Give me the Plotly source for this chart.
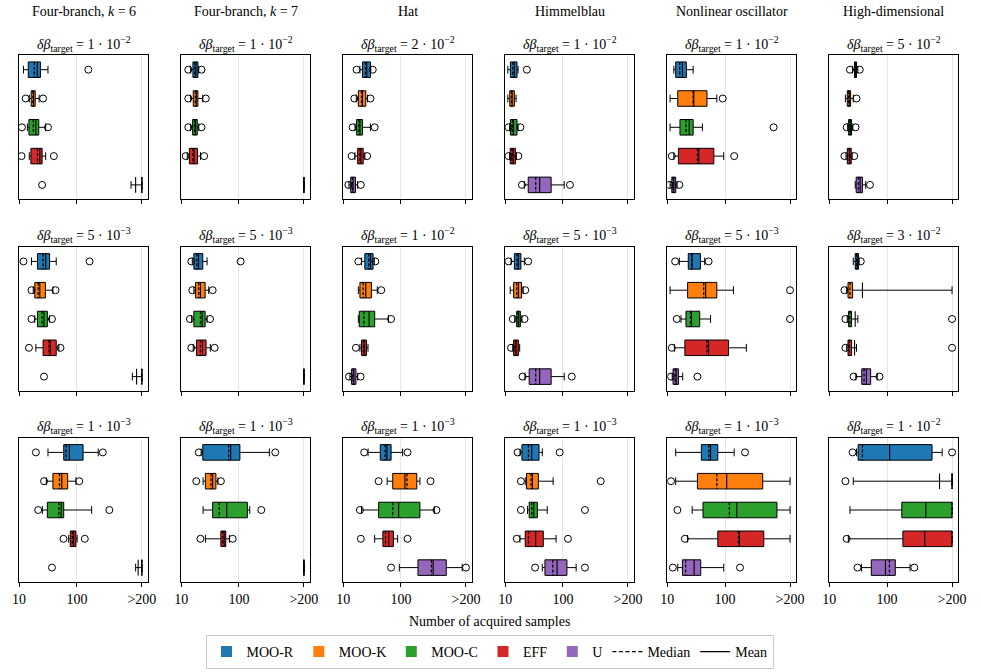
import plotly.graph_objects as go

# ">200": runs that did not reach the target within the budget are drawn at this tick
F = 1334

METHODS = ["MOO-R", "MOO-K", "MOO-C", "EFF", "U"]
COLORS = ["#1f77b4", "#ff7f0e", "#2ca02c", "#d62728", "#9467bd"]
BENCHMARKS = ["Four-branch, <i>k</i> = 6", "Four-branch, <i>k</i> = 7", "Hat",
              "Himmelblau", "Nonlinear oscillator", "High-dimensional"]
TARGET_MANTISSA = [[1, 1, 2, 1, 1, 5], [5, 5, 1, 5, 5, 3], [1, 1, 1, 1, 1, 1]]
TARGET_EXPONENT = [[-2, -2, -2, -2, -2, -2], [-3, -3, -2, -3, -3, -2], [-3, -3, -3, -3, -3, -2]]
X_TICK_VALUES = [10, 100, F]
X_TICK_TEXT = ["10", "100", ">200"]

# statistics per panel (row-major: 3 rows x 6 benchmarks), per method (MOO-R, MOO-K, MOO-C, EFF, U)
WHISKER_LOW = [
    [11.9, 15.0, 13.9, 15.0, 866], [14.6, 14.6, 14.6, 12.8, F], [19.5, 16.9, 16.0, 16.0, 12.6],
    [11.1, 11.1, 11.9, 11.9, 21.4], [13.0, 11.2, 11.2, 13.0, 11.2], [25.3, 19.0, 20.8, 19.5, 28.1],
    [16.4, 17.6, 18.7, 19.5, 913], [15.6, 16.6, 15.2, 16.2, F], [20.8, 18.3, 18.3, 19.5, 13.1],
    [12.6, 12.2, 14.6, 13.5, 21.9], [16.2, 11.2, 17.3, 13.3, 12.2], [26.0, 20.0, 20.5, 20.0, 28.8],
    [31.6, 29.6, 25.3, 72.1, 1040], [22.2, 24.0, 24.0, 26.3, F], [27.0, 57.7, 20.8, 35.1, 93.7],
    [18.0, 22.2, 24.3, 18.0, 43.9], [14.0, 14.0, 27.0, 22.5, 15.2], [29.6, 26.0, 22.8, 21.4, 36.0],
]
Q1 = [
    [14.4, 16.2, 14.8, 16.0, F], [16.0, 16.2, 15.8, 13.9, F], [21.6, 18.3, 17.1, 17.8, 13.5],
    [12.3, 12.0, 12.3, 12.2, 25.0], [14.0, 15.2, 16.6, 15.6, 12.0], [27.3, 20.5, 21.6, 20.5, 29.2],
    [20.8, 18.7, 20.8, 26.0, F], [16.6, 17.8, 16.6, 18.5, F], [23.7, 19.5, 19.0, 20.8, 14.0],
    [14.4, 14.0, 15.8, 14.0, 26.0], [23.1, 22.5, 21.1, 20.2, 12.6], [28.1, 21.1, 21.6, 21.1, 36.5],
    [59.2, 38.5, 30.8, 76.9, F], [23.7, 26.3, 35.1, 48.7, F], [43.9, 72.1, 41.1, 48.7, 197],
    [19.5, 23.4, 26.0, 22.2, 48.7], [39.0, 33.3, 41.6, 75.0, 18.3], [31.6, F, 180, 188, 53.4],
]
MEDIAN = [
    [18.3, 17.3, 17.6, 20.8, F], [17.3, 17.6, 17.1, 15.8, F], [24.3, 20.8, 18.7, 19.5, 14.4],
    [13.5, 12.8, 13.3, 13.1, 33.7], [16.4, 28.1, 21.1, 33.3, 12.6], [27.9, 21.6, 22.8, 22.2, 32.0],
    [26.0, 21.4, 25.0, 32.9, F], [18.7, 20.2, 21.6, 21.6, F], [27.7, 22.2, 22.8, 22.5, 14.9],
    [16.0, 15.8, 16.6, 15.0, 33.7], [26.3, 42.7, 25.3, 48.7, 13.7], [29.6, 22.8, 22.8, 22.2, 40.0],
    [65.0, 50.0, 48.7, 83.3, F], [66.7, 32.9, 45.6, 52.7, F], [53.4, 127, 72.1, 54.1, 337],
    [25.3, 28.1, 28.8, 25.3, 66.7], [52.7, 72.1, 119, 171, 20.8], [37.5, F, F, F, 110],
]
MEAN = [
    [20.6, 17.8, 19.5, 22.8, 1040], [18.0, 18.3, 17.6, 16.7, F], [25.6, 21.6, 19.5, 20.2, 14.8],
    [14.4, 13.2, 13.9, 13.7, 39.5], [18.3, 28.8, 24.0, 35.1, 13.0], [28.8, 22.2, 23.1, 22.5, 34.2],
    [28.8, 22.8, 27.0, 34.6, 1080], [20.0, 21.6, 23.1, 23.4, F], [29.6, 24.6, 28.1, 23.4, 15.3],
    [16.9, 16.9, 17.1, 15.4, 39.5], [27.0, 46.2, 26.3, 52.0, 14.3], [30.4, 37.5, 28.1, 27.4, 43.9],
    [74.0, 54.8, 53.4, 87.7, 1150], [72.1, 35.1, 61.6, 55.5, F], [57.0, 117, 91.2, 61.6, 361],
    [28.8, 29.6, 31.2, 33.7, 79.0], [56.2, 107, 160, 178, 29.2], [111, 810, 469, 450, 93.7],
]
Q3 = [
    [23.4, 19.0, 21.9, 25.0, F], [19.5, 19.5, 19.0, 19.2, F], [29.6, 24.6, 21.6, 22.2, 16.3],
    [16.0, 14.4, 16.0, 15.0, 62.4], [21.4, 48.7, 28.1, 64.1, 14.0], [29.6, 23.4, 24.3, 24.0, 37.5],
    [33.7, 28.5, 30.8, 43.9, F], [23.7, 26.0, 26.0, 27.0, F], [32.9, 30.8, 35.1, 25.3, 16.6],
    [18.7, 19.2, 18.3, 16.9, 62.4], [37.5, 72.1, 36.5, 115, 15.6], [32.0, 25.3, 24.3, 24.3, 52.0],
    [128, 69.3, 59.2, 96.2, F], [104, 40.0, 140, 59.2, F], [67.5, 188, 213, 74.0, 609],
    [38.5, 37.5, 36.0, 45.6, 117], [75.0, 450, 792, 469, 38.0], [601, F, F, F, 139],
]
WHISKER_HIGH = [
    [31.6, 22.2, 28.8, 28.8, F], [20.2, 23.7, 20.2, 21.6, F], [30.0, 26.3, 29.6, 23.7, 17.8],
    [16.7, 15.4, 16.7, 15.6, 105], [28.1, 72.1, 40.6, 94.9, 14.8], [31.2, 26.0, 25.6, 24.9, 42.7],
    [43.9, 38.5, 33.7, 48.7, F], [28.1, 30.0, 28.1, 32.0, F], [34.6, 39.0, 60.8, 26.9, 17.8],
    [21.4, 20.5, 19.5, 17.8, 105], [44.5, 140, 56.2, 234, 18.5], [32.9, F, 31.2, 29.6, 67.5],
    [234, 96.2, 180, 101, F], [337, 43.3, 154, 68.4, F], [107, 213, 380, 87.7, 1150],
    [43.9, 67.5, 53.4, 76.0, 169], [144, F, F, F, 94.9], [900, F, F, F, 250],
]
OUTLIER_LOW = [
    [None, 13.0, 11.2, 11.0, 25.0], [13.3, 13.3, 13.3, 12.0, None], [17.1, 15.6, 14.6, 14.0, 12.3],
    [None, None, 11.4, 11.4, 19.5], [None, None, None, 12.0, 10.9], [22.8, None, 20.0, 18.3, None],
    [11.9, 16.4, 16.4, 14.8, 27.0], [15.0, 15.6, 14.2, 15.0, None], [18.3, None, None, 16.6, 12.6],
    [11.4, None, 13.5, 12.6, 20.0], [13.7, None, 14.6, 12.0, 11.6], [None, 18.3, 19.0, 19.0, 26.3],
    [19.5, 27.0, 21.4, 58.5, 37.0], [20.2, 18.3, None, 21.6, None], [23.1, 41.1, 19.5, 20.2, 67.5],
    [16.4, 18.7, 18.7, 15.8, 32.9], [None, 11.6, 15.0, 20.2, 12.5], [25.3, 19.0, None, 20.0, 30.8],
]
OUTLIER_HIGH = [
    [158, 26.0, 31.6, 40.0, None], [22.5, 26.7, 22.5, 25.0, None], [32.5, 29.6, 35.1, 26.0, 20.2],
    [23.7, None, 18.3, 16.9, 132], [None, 91.2, 693, 144, 16.2], [33.7, 29.6, 28.5, 27.0, 50.6],
    [166, 42.7, 37.0, 52.0, None], [107, 35.1, 31.6, 38.0, None], [36.0, 45.6, 67.5, None, 20.0],
    [25.0, 22.2, 21.6, None, 142], [52.0, F, F, None, 33.3], [35.1, None, F, F, 74.0],
    [281, 110, 365, 137, None], [426, 48.7, 244, 78.0, None], [130, 325, 411, 130, F],
    [87.7, 450, 240, 122, 240], [222, None, None, None, 182], [F, None, None, None, 296],
]

# ---------------------------------------------------------------- layout geometry (pixels)
W, H = 981, 672
AX_W, AX_H = 131, 144
COL_LEFT = [12.3 + 164.55 * c for c in range(6)]
ROW_TOP = [55.3, 247.0, 438.0]
SERIF = "Liberation Serif, Times New Roman, serif"
BOX_HALF = 0.27      # half box height in category units
CAP_HALF = 0.135     # half whisker-cap length

fig = go.Figure()
axes = {}
annotations = []

for r in range(3):
    for c in range(6):
        p = r * 6 + c
        k = p + 1
        xa = "x" if k == 1 else f"x{k}"
        ya = "y" if k == 1 else f"y{k}"
        xkey = "xaxis" if k == 1 else f"xaxis{k}"
        ykey = "yaxis" if k == 1 else f"yaxis{k}"
        left, top = COL_LEFT[c], ROW_TOP[r]

        wx, wy = [], []          # whiskers and caps
        mdx, mdy = [], []        # median lines (dashed)
        mnx, mny = [], []        # mean lines (solid)
        ox, oy = [], []          # outliers
        for m in range(5):
            lo, q1, med, mean, q3, hi = (WHISKER_LOW[p][m], Q1[p][m], MEDIAN[p][m],
                                         MEAN[p][m], Q3[p][m], WHISKER_HIGH[p][m])
            wx += [lo, q1, None, q3, hi, None, lo, lo, None, hi, hi, None]
            wy += [m, m, None, m, m, None, m - CAP_HALF, m + CAP_HALF, None,
                   m - CAP_HALF, m + CAP_HALF, None]
            mdx += [med, med, None]
            mdy += [m - BOX_HALF, m + BOX_HALF, None]
            mnx += [mean, mean, None]
            mny += [m - BOX_HALF, m + BOX_HALF, None]
            for v in (OUTLIER_LOW[p][m], OUTLIER_HIGH[p][m]):
                if v is not None:
                    ox.append(v)
                    oy.append(m)

        fig.add_trace(go.Scatter(x=wx, y=wy, mode="lines", line=dict(color="black", width=1),
                                 showlegend=False, hoverinfo="skip", xaxis=xa, yaxis=ya))
        for m in range(5):
            q1, q3 = Q1[p][m], Q3[p][m]
            fig.add_trace(go.Scatter(
                x=[q1, q3, q3, q1, q1],
                y=[m - BOX_HALF, m - BOX_HALF, m + BOX_HALF, m + BOX_HALF, m - BOX_HALF],
                mode="lines", fill="toself", fillcolor=COLORS[m],
                line=dict(color="black", width=1),
                showlegend=False, hoverinfo="skip", xaxis=xa, yaxis=ya,
            ))
        fig.add_trace(go.Scatter(x=mdx, y=mdy, mode="lines",
                                 line=dict(color="black", width=1.3, dash="3px,1.8px"),
                                 showlegend=False, hoverinfo="skip", xaxis=xa, yaxis=ya))
        fig.add_trace(go.Scatter(x=mnx, y=mny, mode="lines",
                                 line=dict(color="black", width=1.1),
                                 showlegend=False, hoverinfo="skip", xaxis=xa, yaxis=ya))
        fig.add_trace(go.Scatter(
            x=ox, y=oy, mode="markers",
            marker=dict(symbol="circle-open", size=7, color="black", line=dict(width=1)),
            showlegend=False, hoverinfo="skip", xaxis=xa, yaxis=ya,
        ))

        axes[xkey] = dict(
            domain=[left / W, (left + AX_W) / W], anchor=ya,
            type="log", range=[1, 3.233],
            tickvals=X_TICK_VALUES, ticktext=X_TICK_TEXT, showticklabels=(r == 2),
            ticks="outside", ticklen=4, tickwidth=1, tickcolor="black",
            showgrid=True, gridcolor="#e6e6e6", gridwidth=1,
            showline=True, linecolor="black", linewidth=1, mirror=True, zeroline=False,
            tickfont=dict(family=SERIF, size=14, color="black"),
        )
        axes[ykey] = dict(
            domain=[1 - (top + AX_H) / H, 1 - top / H], anchor=xa,
            range=[4.5, -0.5], showticklabels=False, ticks="", showgrid=False,
            zeroline=False, showline=True, linecolor="black", linewidth=1, mirror=True,
        )
        annotations.append(dict(
            text=(f"<i>δβ</i><sub>target</sub> = {TARGET_MANTISSA[r][c]} · "
                  f"10<sup>−{abs(TARGET_EXPONENT[r][c])}</sup>"),
            x=(left + AX_W / 2) / W, y=1 - (top - 11.6) / H, xref="paper", yref="paper",
            xanchor="center", yanchor="middle", showarrow=False,
            font=dict(family=SERIF, size=14, color="black"),
        ))

for c in range(6):
    annotations.append(dict(
        text=BENCHMARKS[c], x=(COL_LEFT[c] + AX_W / 2) / W, y=1 - 11 / H,
        xref="paper", yref="paper", xanchor="center", yanchor="middle", showarrow=False,
        font=dict(family=SERIF, size=14, color="black"),
    ))

annotations.append(dict(
    text="Number of acquired samples", x=490 / W, y=1 - 621 / H,
    xref="paper", yref="paper", xanchor="center", yanchor="middle", showarrow=False,
    font=dict(family=SERIF, size=14, color="black"),
))

# legend entries
for m in range(5):
    fig.add_trace(go.Scatter(
        x=[None], y=[None], mode="markers", name=METHODS[m],
        marker=dict(symbol="square", size=11, color=COLORS[m]),
    ))
fig.add_trace(go.Scatter(x=[None], y=[None], mode="lines", name="Median",
                         line=dict(color="black", width=1.3, dash="4px,2.5px")))
fig.add_trace(go.Scatter(x=[None], y=[None], mode="lines", name="Mean",
                         line=dict(color="black", width=1.3)))

fig.update_layout(
    width=W, height=H, margin=dict(l=0, r=0, t=0, b=0),
    paper_bgcolor="white", plot_bgcolor="white",
    annotations=annotations,
    showlegend=True,
    legend=dict(
        orientation="h", x=490 / W, xanchor="center", y=1 - 652 / H, yanchor="middle",
        bordercolor="#cccccc", borderwidth=1, bgcolor="white",
        font=dict(family=SERIF, size=14, color="black"),
    ),
    **axes,
)

fig.write_html("out.html")
